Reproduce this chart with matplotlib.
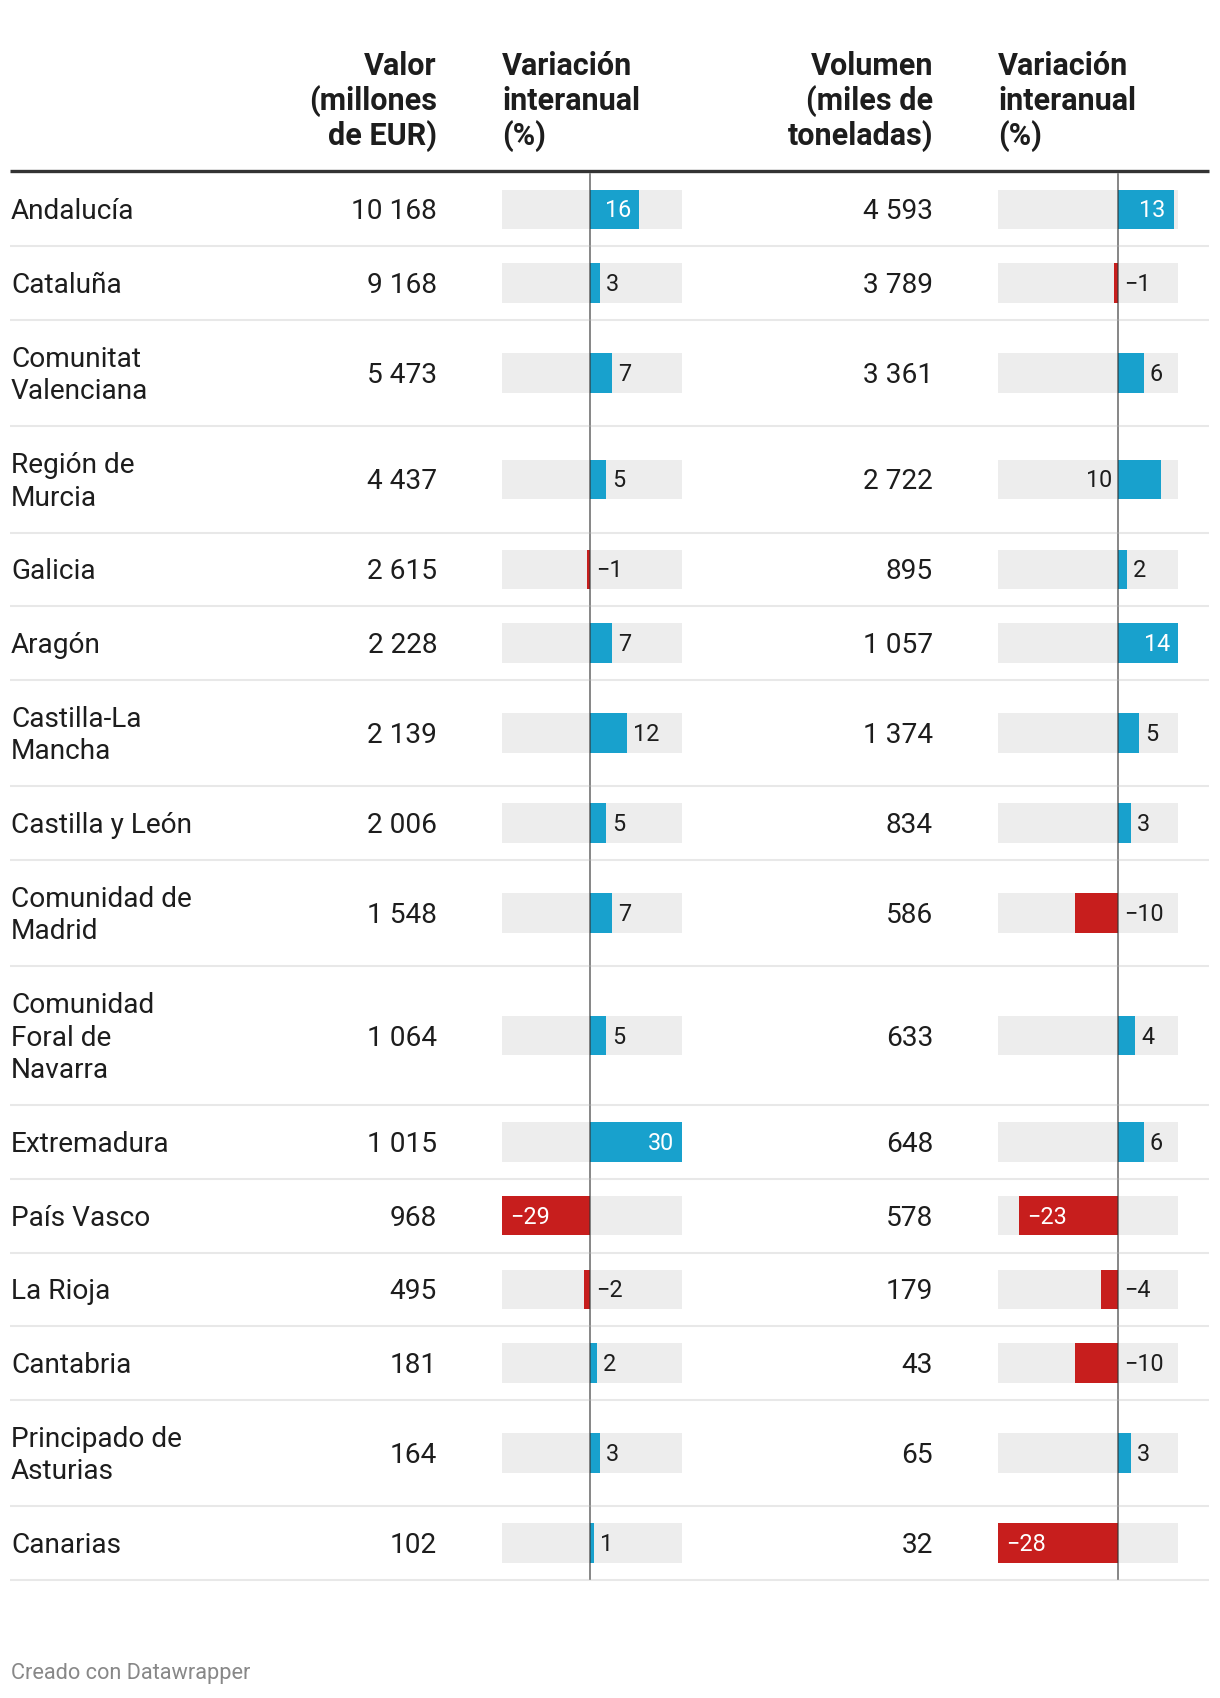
import matplotlib
matplotlib.use("Agg")
import matplotlib.pyplot as plt
from matplotlib.transforms import offset_copy

plt.rcParams['font.family'] = ['Roboto', 'DejaVu Sans']

# datos
regiones = ["Andalucía", "Cataluña", "Comunitat\nValenciana", "Región de\nMurcia",
            "Galicia", "Aragón", "Castilla-La\nMancha", "Castilla y León",
            "Comunidad de\nMadrid", "Comunidad\nForal de\nNavarra", "Extremadura",
            "País Vasco", "La Rioja", "Cantabria", "Principado de\nAsturias", "Canarias"]
valor = [10168, 9168, 5473, 4437, 2615, 2228, 2139, 2006, 1548, 1064, 1015, 968, 495, 181, 164, 102]
var_valor = [16, 3, 7, 5, -1, 7, 12, 5, 7, 5, 30, -29, -2, 2, 3, 1]
volumen = [4593, 3789, 3361, 2722, 895, 1057, 1374, 834, 586, 633, 648, 578, 179, 43, 65, 32]
var_volumen = [13, -1, 6, 10, 2, 14, 5, 3, -10, 4, 6, -23, -4, -10, 3, -28]

cabeceras = ["Valor\n(millones\nde EUR)", "Variación\ninteranual\n(%)",
             "Volumen\n(miles de\ntoneladas)", "Variación\ninteranual\n(%)"]

W, H = 1220, 1698
TXT = '#1d1d1d'
AZUL = '#18a1cd'
ROJO = '#c71e1d'
FONDO = '#ededed'

fig = plt.figure(figsize=(W / 100, H / 100), dpi=100)
ax = fig.add_axes([0, 0, 1, 1])
ax.set_xlim(0, W)
ax.set_ylim(H, 0)
ax.axis('off')

LH = 32.6
FS = 20.2


def multiline(x, y_base, s, ha, size, weight='normal', color=TXT, lh=LH):
    # y_base = linea base de la linea central
    lines = s.split('\n')
    n = len(lines)
    for i, l in enumerate(lines):
        y = y_base + (i - (n - 1) / 2) * lh
        ax.text(x, y, l, ha=ha, va='baseline', fontsize=size, fontweight=weight, color=color)


# cabecera
hx = [(437, 'right'), (502, 'left'), (933, 'right'), (998, 'left')]
for (x, ha), s in zip(hx, cabeceras):
    multiline(x, 110, s, ha, 22, weight='bold', lh=35)
ax.plot([10, 1209], [171, 171], color='#333333', lw=2.4, solid_capstyle='butt')

# filas
tops, centers, bottoms = [], [], []
y = 172.5
for r in regiones:
    n = r.count('\n') + 1
    h = 41.1 + LH * n
    tops.append(y)
    centers.append(y + h / 2)
    bottoms.append(y + h)
    y += h

for i, r in enumerate(regiones):
    c = centers[i]
    multiline(11, c + 10, r, 'left', FS)
    ax.text(437, c + 10, f"{valor[i]:,}".replace(",", " "), ha='right', va='baseline',
            fontsize=FS, color=TXT)
    ax.text(933, c + 10, f"{volumen[i]:,}".replace(",", " "), ha='right', va='baseline',
            fontsize=FS, color=TXT)
    ax.plot([10, 1209], [bottoms[i], bottoms[i]], color='#e8e8e8', lw=1.5,
            solid_capstyle='butt')


def bar_column(x0, width, lo, hi, vals):
    bx = fig.add_axes([x0 / W, 0, width / W, 1])
    bx.set_xlim(lo, hi)
    bx.set_ylim(H, 0)
    bx.axis('off')
    ppu = width / (hi - lo)
    bx.barh(centers, [hi - lo] * len(vals), left=lo, height=39.5, color=FONDO, linewidth=0)
    cols = [AZUL if v >= 0 else ROJO for v in vals]
    bx.barh(centers, vals, height=39.5, color=cols, linewidth=0)
    for t, b in zip(tops, bottoms):
        bx.plot([0, 0], [t + 1, b - 1], color='#333333', alpha=0.75, lw=1.1)
    for v, c in zip(vals, centers):
        lab = f"{v}".replace('-', '\u2212')
        lw_px = 13 * len(lab)
        bar_px = abs(v) * ppu
        if bar_px >= 46:
            if v > 0:
                tr = offset_copy(bx.transData, fig=fig, x=-8, y=0, units='dots')
                bx.text(v, c + 8, lab, ha='right', va='baseline', fontsize=16.8,
                        color='white', transform=tr)
            else:
                tr = offset_copy(bx.transData, fig=fig, x=8, y=0, units='dots')
                bx.text(v, c + 8, lab, ha='left', va='baseline', fontsize=16.8,
                        color='white', transform=tr)
        else:
            if v >= 0 and (hi - v) * ppu < lw_px + 8:
                tr = offset_copy(bx.transData, fig=fig, x=-6, y=0, units='dots')
                bx.text(0, c + 8, lab, ha='right', va='baseline', fontsize=16.8,
                        color=TXT, transform=tr)
            else:
                tr = offset_copy(bx.transData, fig=fig, x=6, y=0, units='dots')
                bx.text(max(v, 0), c + 8, lab, ha='left', va='baseline', fontsize=16.8,
                        color=TXT, transform=tr)
    return bx


bar_column(502, 180, -29, 30, var_valor)
bar_column(998, 180, -28, 14, var_volumen)

ax.text(11, 1674, "Creado con Datawrapper", ha='left', va='center', fontsize=15.7,
        color='#888888')

fig.savefig("out.png", dpi=100)
